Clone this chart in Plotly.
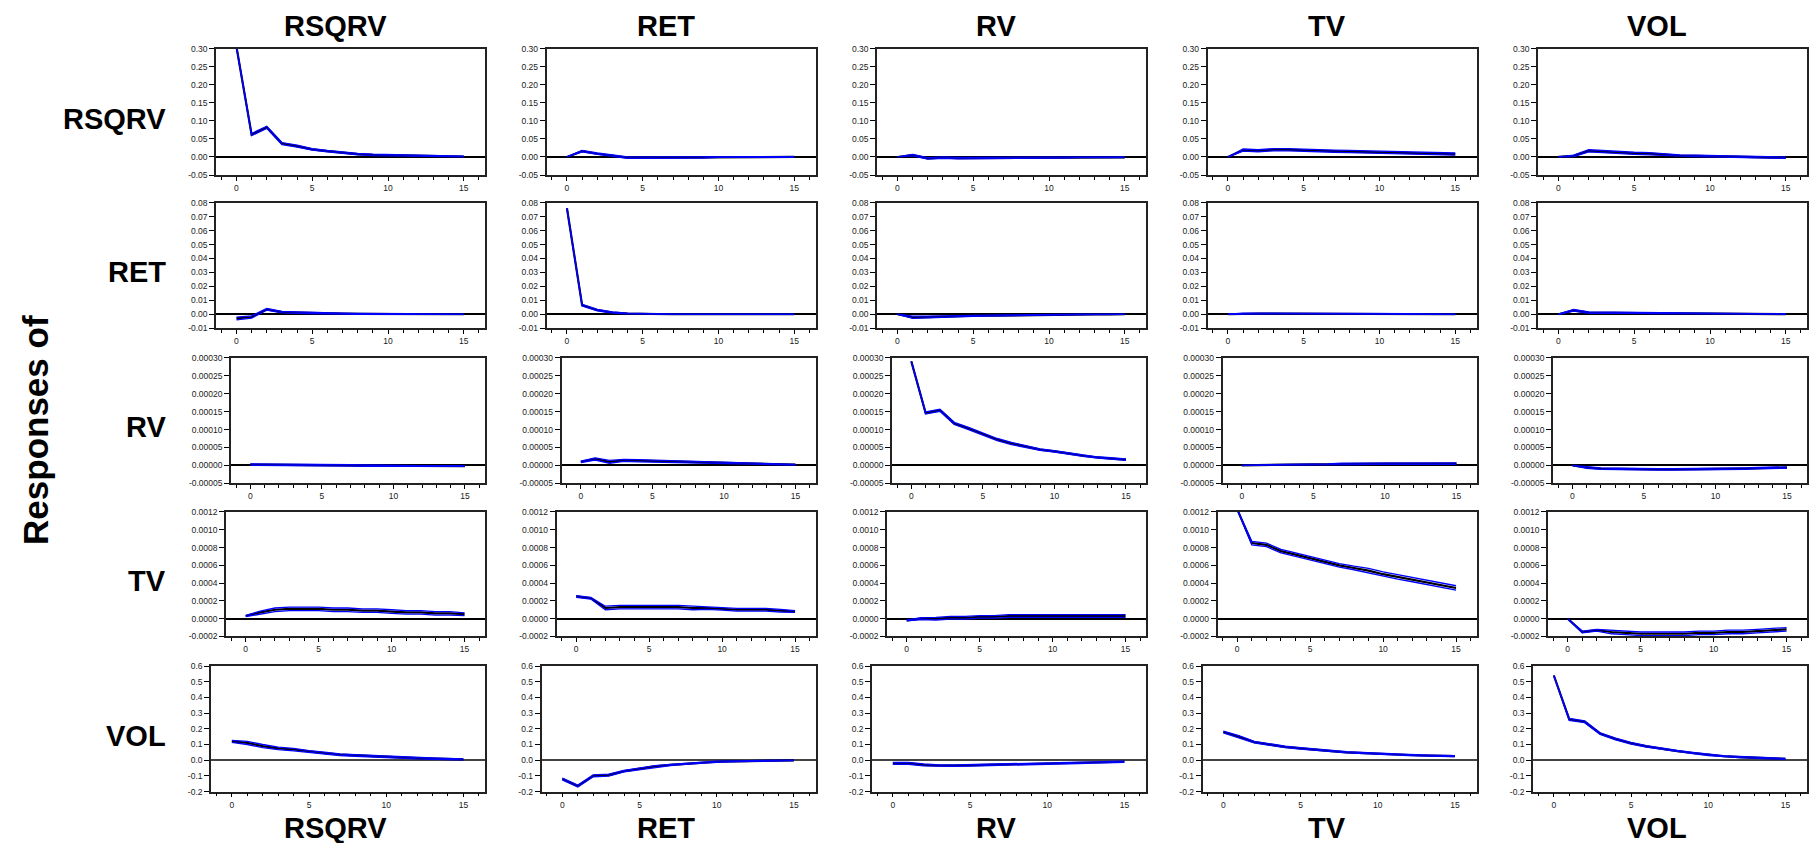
import plotly.graph_objects as go

# ---------------- data ----------------
periods = list(range(16))
shock_names = ["RSQRV", "RET", "RV", "TV", "VOL"]
response_names = ["RSQRV", "RET", "RV", "TV", "VOL"]

# responses of RSQRV to shocks in RSQRV, RET, RV, TV, VOL
irf_RSQRV = [
    [0.305, 0.062, 0.082, 0.037, 0.030, 0.021, 0.016, 0.011, 0.008, 0.006, 0.005, 0.004, 0.003, 0.002, 0.002, 0.001],
    [0.000, 0.016, 0.009, 0.003, -0.002, -0.002, -0.002, -0.001, -0.001, -0.001, 0.000, 0.000, 0.000, 0.000, 0.000, 0.000],
    [0.000, 0.005, -0.004, -0.002, -0.003, -0.003, -0.003, -0.003, -0.002, -0.002, -0.001, -0.001, -0.001, -0.001, -0.001, -0.001],
    [0.000, 0.019, 0.017, 0.020, 0.020, 0.018, 0.017, 0.016, 0.015, 0.014, 0.013, 0.012, 0.011, 0.010, 0.009, 0.008],
    [0.000, 0.003, 0.017, 0.014, 0.013, 0.010, 0.009, 0.006, 0.004, 0.003, 0.002, 0.001, 0.000, -0.001, -0.002, -0.002],
]
band_RSQRV = [
    [0.001, 0.003, 0.003, 0.003, 0.003, 0.002, 0.002, 0.002, 0.002, 0.002, 0.002, 0.002, 0.001, 0.001, 0.001, 0.001],
    [0.000, 0.002, 0.002, 0.002, 0.002, 0.002, 0.002, 0.002, 0.002, 0.002, 0.001, 0.001, 0.001, 0.001, 0.001, 0.001],
    [0.000, 0.002, 0.002, 0.002, 0.002, 0.002, 0.002, 0.002, 0.002, 0.002, 0.002, 0.002, 0.001, 0.001, 0.001, 0.001],
    [0.000, 0.003, 0.003, 0.003, 0.003, 0.003, 0.003, 0.003, 0.003, 0.003, 0.003, 0.003, 0.003, 0.003, 0.003, 0.003],
    [0.000, 0.002, 0.003, 0.003, 0.003, 0.003, 0.003, 0.002, 0.002, 0.002, 0.002, 0.002, 0.002, 0.002, 0.002, 0.002],
]

irf_RET = [
    [-0.0030, -0.0020, 0.0035, 0.0015, 0.0012, 0.0008, 0.0006, 0.0004, 0.0003, 0.0002, 0.0002, 0.0001, 0.0001, 0.0001, 0.0000, 0.0000],
    [0.0760, 0.0065, 0.0030, 0.0012, 0.0005, 0.0002, 0.0001, 0.0000, 0.0000, 0.0000, 0.0000, 0.0000, 0.0000, 0.0000, 0.0000, 0.0000],
    [0.0000, -0.0022, -0.0020, -0.0016, -0.0013, -0.0011, -0.0010, -0.0008, -0.0006, -0.0005, -0.0004, -0.0003, -0.0002, -0.0001, -0.0001, 0.0000],
    [0.0000, 0.0005, 0.0005, 0.0005, 0.0005, 0.0005, 0.0005, 0.0005, 0.0005, 0.0005, 0.0005, 0.0005, 0.0002, 0.0001, 0.0000, 0.0000],
    [0.0000, 0.0028, 0.0012, 0.0012, 0.0012, 0.0011, 0.0008, 0.0007, 0.0006, 0.0005, 0.0004, 0.0003, 0.0003, 0.0002, 0.0002, 0.0001],
]
band_RET = [
    [0.0010, 0.0008, 0.0006, 0.0005, 0.0005, 0.0004, 0.0004, 0.0003, 0.0003, 0.0003, 0.0002, 0.0002, 0.0002, 0.0002, 0.0001, 0.0001],
    [0.0002, 0.0006, 0.0005, 0.0004, 0.0003, 0.0002, 0.0002, 0.0001, 0.0001, 0.0001, 0.0001, 0.0001, 0.0001, 0.0001, 0.0001, 0.0001],
    [0.0000, 0.0008, 0.0006, 0.0005, 0.0005, 0.0004, 0.0004, 0.0003, 0.0003, 0.0003, 0.0002, 0.0002, 0.0002, 0.0001, 0.0001, 0.0001],
    [0.0000, 0.0003, 0.0003, 0.0003, 0.0003, 0.0003, 0.0003, 0.0003, 0.0003, 0.0003, 0.0003, 0.0003, 0.0002, 0.0001, 0.0001, 0.0001],
    [0.0000, 0.0006, 0.0005, 0.0004, 0.0004, 0.0004, 0.0003, 0.0003, 0.0003, 0.0003, 0.0002, 0.0002, 0.0002, 0.0002, 0.0001, 0.0001],
]

irf_RV = [
    [0.000002, 0.000002, 0.000002, 0.000002, 0.000002, 0.000002, 0.000001, 0.000000, -0.000001, -0.000001, -0.000001, -0.000002, -0.000002, -0.000002, -0.000002, -0.000002],
    [0.000010, 0.000018, 0.000010, 0.000014, 0.000013, 0.000012, 0.000011, 0.000010, 0.000009, 0.000008, 0.000007, 0.000006, 0.000005, 0.000004, 0.000003, 0.000002],
    [0.000290, 0.000146, 0.000154, 0.000117, 0.000103, 0.000087, 0.000072, 0.000061, 0.000052, 0.000044, 0.000039, 0.000032, 0.000027, 0.000022, 0.000019, 0.000016],
    [0.000000, 0.000001, 0.000001, 0.000002, 0.000002, 0.000003, 0.000003, 0.000004, 0.000004, 0.000005, 0.000005, 0.000005, 0.000005, 0.000005, 0.000005, 0.000005],
    [0.000000, -0.000006, -0.000009, -0.000010, -0.000011, -0.000011, -0.000011, -0.000011, -0.000011, -0.000011, -0.000010, -0.000010, -0.000009, -0.000008, -0.000007, -0.000006],
]
band_RV = [
    [0.000002, 0.000002, 0.000002, 0.000002, 0.000002, 0.000002, 0.000002, 0.000002, 0.000002, 0.000001, 0.000001, 0.000001, 0.000001, 0.000001, 0.000001, 0.000001],
    [0.000002, 0.000003, 0.000004, 0.000003, 0.000003, 0.000003, 0.000003, 0.000002, 0.000002, 0.000002, 0.000002, 0.000002, 0.000002, 0.000002, 0.000001, 0.000001],
    [0.000000, 0.000003, 0.000003, 0.000003, 0.000003, 0.000003, 0.000003, 0.000003, 0.000002, 0.000002, 0.000002, 0.000002, 0.000002, 0.000002, 0.000002, 0.000002],
    [0.000000, 0.000001, 0.000001, 0.000001, 0.000001, 0.000001, 0.000001, 0.000002, 0.000002, 0.000002, 0.000002, 0.000002, 0.000002, 0.000002, 0.000002, 0.000002],
    [0.000000, 0.000002, 0.000002, 0.000002, 0.000002, 0.000002, 0.000002, 0.000002, 0.000002, 0.000002, 0.000002, 0.000002, 0.000002, 0.000002, 0.000002, 0.000002],
]

irf_TV = [
    [0.000030, 0.000070, 0.000100, 0.000110, 0.000110, 0.000110, 0.000100, 0.000100, 0.000090, 0.000090, 0.000080, 0.000070, 0.000070, 0.000060, 0.000060, 0.000050],
    [0.000250, 0.000230, 0.000120, 0.000130, 0.000130, 0.000130, 0.000130, 0.000130, 0.000120, 0.000120, 0.000110, 0.000100, 0.000100, 0.000100, 0.000090, 0.000080],
    [-0.000020, 0.000000, 0.000000, 0.000010, 0.000010, 0.000020, 0.000020, 0.000030, 0.000030, 0.000030, 0.000030, 0.000030, 0.000030, 0.000030, 0.000030, 0.000030],
    [0.001230, 0.000850, 0.000830, 0.000760, 0.000720, 0.000680, 0.000640, 0.000600, 0.000570, 0.000540, 0.000500, 0.000470, 0.000440, 0.000410, 0.000380, 0.000345],
    [0.000000, -0.000150, -0.000130, -0.000150, -0.000160, -0.000170, -0.000170, -0.000170, -0.000170, -0.000160, -0.000160, -0.000150, -0.000150, -0.000140, -0.000130, -0.000120],
]
band_TV = [
    [0.000008, 0.000015, 0.000020, 0.000020, 0.000020, 0.000020, 0.000020, 0.000020, 0.000020, 0.000020, 0.000020, 0.000020, 0.000020, 0.000020, 0.000020, 0.000015],
    [0.000010, 0.000010, 0.000020, 0.000020, 0.000020, 0.000020, 0.000020, 0.000020, 0.000020, 0.000015, 0.000015, 0.000015, 0.000015, 0.000015, 0.000015, 0.000010],
    [0.000005, 0.000010, 0.000015, 0.000015, 0.000015, 0.000015, 0.000015, 0.000015, 0.000015, 0.000015, 0.000015, 0.000015, 0.000015, 0.000015, 0.000015, 0.000015],
    [0.000000, 0.000020, 0.000020, 0.000020, 0.000020, 0.000020, 0.000020, 0.000020, 0.000020, 0.000025, 0.000025, 0.000025, 0.000025, 0.000025, 0.000025, 0.000025],
    [0.000000, 0.000010, 0.000010, 0.000020, 0.000020, 0.000020, 0.000020, 0.000020, 0.000020, 0.000020, 0.000020, 0.000020, 0.000020, 0.000020, 0.000020, 0.000020],
]

irf_VOL = [
    [0.120, 0.110, 0.090, 0.075, 0.068, 0.055, 0.045, 0.035, 0.030, 0.025, 0.020, 0.017, 0.013, 0.010, 0.007, 0.005],
    [-0.120, -0.165, -0.100, -0.095, -0.070, -0.055, -0.040, -0.030, -0.022, -0.015, -0.010, -0.007, -0.005, -0.003, -0.002, -0.001],
    [-0.020, -0.020, -0.030, -0.035, -0.035, -0.033, -0.030, -0.028, -0.026, -0.024, -0.022, -0.019, -0.017, -0.015, -0.012, -0.010],
    [0.180, 0.150, 0.115, 0.100, 0.085, 0.075, 0.065, 0.058, 0.050, 0.045, 0.040, 0.036, 0.033, 0.030, 0.028, 0.026],
    [0.540, 0.260, 0.245, 0.170, 0.135, 0.108, 0.088, 0.072, 0.058, 0.046, 0.034, 0.025, 0.020, 0.016, 0.012, 0.008],
]
band_VOL = [
    [0.006, 0.010, 0.010, 0.008, 0.008, 0.006, 0.006, 0.005, 0.005, 0.005, 0.005, 0.005, 0.005, 0.004, 0.004, 0.003],
    [0.006, 0.006, 0.006, 0.006, 0.005, 0.005, 0.005, 0.004, 0.004, 0.004, 0.004, 0.003, 0.003, 0.003, 0.003, 0.002],
    [0.006, 0.006, 0.006, 0.005, 0.005, 0.005, 0.005, 0.005, 0.005, 0.005, 0.005, 0.004, 0.004, 0.004, 0.004, 0.004],
    [0.006, 0.006, 0.005, 0.005, 0.005, 0.005, 0.005, 0.004, 0.004, 0.004, 0.004, 0.004, 0.004, 0.004, 0.003, 0.003],
    [0.000, 0.006, 0.006, 0.005, 0.005, 0.005, 0.005, 0.004, 0.004, 0.004, 0.004, 0.004, 0.004, 0.004, 0.003, 0.003],
]

irf_rows = [irf_RSQRV, irf_RET, irf_RV, irf_TV, irf_VOL]
band_rows = [band_RSQRV, band_RET, band_RV, band_TV, band_VOL]

# y-axis ticks per row
yvals_RSQRV = [-0.05, 0.00, 0.05, 0.10, 0.15, 0.20, 0.25, 0.30]
ytext_RSQRV = ["-0.05", "0.00", "0.05", "0.10", "0.15", "0.20", "0.25", "0.30"]
yvals_RET = [-0.01, 0.00, 0.01, 0.02, 0.03, 0.04, 0.05, 0.06, 0.07, 0.08]
ytext_RET = ["-0.01", "0.00", "0.01", "0.02", "0.03", "0.04", "0.05", "0.06", "0.07", "0.08"]
yvals_RV = [-0.00005, 0.0, 0.00005, 0.00010, 0.00015, 0.00020, 0.00025, 0.00030]
ytext_RV = ["-0.00005", "0.00000", "0.00005", "0.00010", "0.00015", "0.00020", "0.00025", "0.00030"]
yvals_TV = [-0.0002, 0.0, 0.0002, 0.0004, 0.0006, 0.0008, 0.0010, 0.0012]
ytext_TV = ["-0.0002", "0.0000", "0.0002", "0.0004", "0.0006", "0.0008", "0.0010", "0.0012"]
yvals_VOL = [-0.2, -0.1, 0.0, 0.1, 0.2, 0.3, 0.4, 0.5, 0.6]
ytext_VOL = ["-0.2", "-0.1", "0.0", "0.1", "0.2", "0.3", "0.4", "0.5", "0.6"]
ytick_rows = [(yvals_RSQRV, ytext_RSQRV), (yvals_RET, ytext_RET), (yvals_RV, ytext_RV),
              (yvals_TV, ytext_TV), (yvals_VOL, ytext_VOL)]

xtick_vals = [0, 5, 10, 15]
xtick_text = ["0", "5", "10", "15"]

# ---------------- layout geometry (page pixels) ----------------
PAGE_W, PAGE_H = 1818, 851
OFF = 8  # default body margin of the html page
W, H = PAGE_W - 2 * OFF, PAGE_H - 2 * OFF


def px(p):
    return (p - OFF) / W


def py(p):
    return 1 - (p - OFF) / H


row_top = [44, 200, 357, 513, 669]
row_bot = [172, 327, 484, 639, 796]
row_left = [216, 216, 231, 226, 211]
col_pitch = 330.5
col_right0 = 485
x_range = [-1.35, 16.4]

BLUE = "#0000FF"
BLACK = "#000000"
TICKFONT = dict(family="Liberation Sans, Arial, sans-serif", size=8.5, color="#1a1a1a")
TITLEFONT = dict(family="Liberation Sans, Arial, sans-serif", size=29, color="black")

fig = go.Figure()
layout = {}
annotations = []

k = 0
for r in range(5):
    yv, yt = ytick_rows[r]
    for c in range(5):
        k += 1
        xs = "x" if k == 1 else f"x{k}"
        ys = "y" if k == 1 else f"y{k}"
        center = irf_rows[r][c]
        band = band_rows[r][c]
        upper = [a + b for a, b in zip(center, band)]
        lower = [a - b for a, b in zip(center, band)]
        fig.add_trace(go.Scatter(x=periods, y=center, mode="lines",
                                 line=dict(color=BLACK, width=2.2), xaxis=xs, yaxis=ys,
                                 showlegend=False, hoverinfo="skip"))
        for bl in (upper, lower):
            fig.add_trace(go.Scatter(x=periods, y=bl, mode="lines",
                                     line=dict(color=BLUE, width=1.3), xaxis=xs, yaxis=ys,
                                     showlegend=False, hoverinfo="skip"))
        left = row_left[r] + c * col_pitch
        right = col_right0 + c * col_pitch
        xname = "xaxis" if k == 1 else f"xaxis{k}"
        yname = "yaxis" if k == 1 else f"yaxis{k}"
        zcol = "#444" if r == 4 else "black"
        layout[xname] = dict(
            domain=[px(left), px(right)], anchor=ys, range=x_range,
            tickvals=xtick_vals, ticktext=xtick_text, ticks="outside", ticklen=4,
            tickwidth=1, tickcolor="black", tickfont=TICKFONT,
            minor=dict(dtick=1, tick0=0, ticks="outside", ticklen=3, tickcolor="black", showgrid=False),
            showline=True, mirror=True, linecolor="#222", linewidth=1.6,
            showgrid=False, zeroline=False, fixedrange=True)
        layout[yname] = dict(
            domain=[py(row_bot[r]), py(row_top[r])], anchor=xs,
            range=[yv[0], yv[-1]], tickvals=yv, ticktext=yt, ticks="outside",
            ticklen=5, tickwidth=1, tickcolor="black", tickfont=TICKFONT,
            showline=True, mirror=True, linecolor="#222", linewidth=1.6,
            showgrid=False, zeroline=True, zerolinecolor=zcol, zerolinewidth=1.8,
            fixedrange=True)

# column titles (top and bottom) and row titles
for c in range(5):
    cx = px(335 + c * col_pitch)
    annotations.append(dict(text=f"<b>{shock_names[c]}</b>", x=cx, y=py(21),
                            xref="paper", yref="paper", showarrow=False,
                            xanchor="center", yanchor="middle", font=TITLEFONT))
    annotations.append(dict(text=f"<b>{shock_names[c]}</b>", x=cx, y=py(833),
                            xref="paper", yref="paper", showarrow=False,
                            xanchor="center", yanchor="middle", font=TITLEFONT))
for r in range(5):
    cy = (row_top[r] + row_bot[r]) / 2 + 7
    annotations.append(dict(text=f"<b>{response_names[r]}</b>", x=px(168), y=py(cy),
                            xref="paper", yref="paper", showarrow=False,
                            xanchor="right", yanchor="middle", font=TITLEFONT))
annotations.append(dict(text="<b>Responses of</b>", x=px(36), y=py(430),
                        xref="paper", yref="paper", showarrow=False, textangle=-90,
                        xanchor="center", yanchor="middle",
                        font=dict(family="Liberation Sans, Arial, sans-serif", size=35, color="black")))

fig.update_layout(**layout)
fig.update_layout(width=W, height=H, margin=dict(l=0, r=0, t=0, b=0),
                  paper_bgcolor="white", plot_bgcolor="white",
                  annotations=annotations, showlegend=False)

fig.write_html("out.html")
